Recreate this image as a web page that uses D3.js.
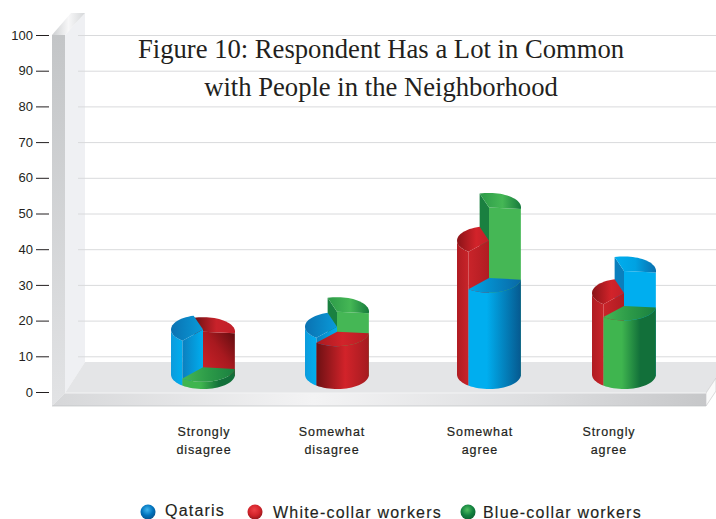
<!DOCTYPE html>
<html lang="en">
<head>
<meta charset="UTF-8">
<title>Figure 10</title>
<script src="https://d3js.org/d3.v7.min.js"></script>
<style>
  html, body { margin: 0; padding: 0; background: #fff; }
  svg { display: block; }
  text { font-family: "Liberation Sans", Arial, sans-serif; fill: #231f20; }
  .title { font-family: "Liberation Serif", "Times New Roman", serif; font-size: 26.65px; text-anchor: middle; }
  .cat { font-size: 12.5px; letter-spacing: 0.9px; text-anchor: middle; stroke: #231f20; stroke-width: 0.2px; }
  .leg { font-size: 16px; letter-spacing: 1.2px; stroke: #231f20; stroke-width: 0.15px; }
</style>
</head>
<body>
<script>
// data
const categories = [["Strongly", "disagree"], ["Somewhat", "disagree"], ["Somewhat", "agree"], ["Strongly", "agree"]];
const seriesNames = ["Qataris", "White-collar workers", "Blue-collar workers"];
const qataris = [12.6, 13.4, 27, 29];
const whiteCollar = [12, 12, 37.5, 22.8];
const blueCollar = [2, 17.6, 46.8, 19.2];
const allSeries = [qataris, whiteCollar, blueCollar];
const yTicks = [0, 10, 20, 30, 40, 50, 60, 70, 80, 90, 100];
const titleLines = ["Figure 10: Respondent Has a Lot in Common", "with People in the Neighborhood"];
// which series sits in which wedge: [back right, back left, front]
const wedgeOrder = [[1, 0, 2], [2, 0, 1], [2, 1, 0], [0, 1, 2]];

const width = 716, height = 519;
const svg = d3.select("body").append("svg").attr("width", width).attr("height", height);
const defs = svg.append("defs");

function grad(id, stops, y1 = 0, x2 = 1, y2 = 0) {
  const g = defs.append("linearGradient").attr("id", id)
    .attr("x1", 0).attr("y1", y1).attr("x2", x2).attr("y2", y2);
  stops.forEach(s => g.append("stop").attr("offset", s[0]).attr("stop-color", s[1]));
}

const y = d3.scaleLinear().domain([0, 100]).range([392, 35]);
const cx = d3.scaleOrdinal().domain(d3.range(4)).range([203, 337, 489, 624]);
const labelX = d3.scaleOrdinal().domain(d3.range(4)).range([204, 332, 480, 609]);
const rx = 32, ry = 14.5, baseY = 374.5;

// ---- box ----
grad("wallFront", [[0, "#c3c5c7"], [1, "#e2e3e5"]], 0, 0, 1);
grad("wallTop", [[0, "#cdcfd1"], [0.5, "#f7f7f8"], [1, "#d5d7d9"]]);
grad("band", [[0, "#d6d7d9"], [0.4, "#f3f3f4"], [0.75, "#dcdddf"], [1, "#c6c7c9"]]);

const poly = pts => "M" + pts.map(p => p.join(",")).join("L") + "Z";
svg.append("path").attr("d", poly([[65, 35], [85, 13], [85, 362], [65, 393]])).attr("fill", "#eff0f3");
svg.append("path").attr("d", poly([[52, 35], [65, 35], [85, 13], [71, 13]])).attr("fill", "url(#wallTop)");
svg.append("path").attr("d", poly([[52, 35], [65, 35], [65, 393], [52, 406]])).attr("fill", "url(#wallFront)");

svg.append("g").selectAll("line").data(yTicks.filter(d => d > 0)).enter().append("line")
  .attr("x1", 78).attr("x2", width)
  .attr("y1", d => y(d) + 0.5).attr("y2", d => y(d) + 0.5)
  .attr("stroke", "#d9dadc").attr("stroke-width", 1);

svg.append("path").attr("d", poly([[65, 393], [85, 362], [716, 362], [716, 378], [706, 393]])).attr("fill", "#e4e5e7");
svg.append("path").attr("d", poly([[52, 406], [65, 393], [706, 393], [706, 406]])).attr("fill", "url(#band)");
svg.append("path").attr("d", poly([[706, 393], [716, 378], [716, 391], [706, 406]]))
  .attr("fill", "#fafafa").attr("stroke", "#c8c9cb").attr("stroke-width", 0.7);
svg.append("line").attr("x1", 65).attr("x2", 706).attr("y1", 393).attr("y2", 393).attr("stroke", "#f4f4f5");
svg.append("line").attr("x1", 52).attr("x2", 706).attr("y1", 406).attr("y2", 406).attr("stroke", "#bfc1c3").attr("stroke-width", 0.7);

// ---- axis ----
const axis = svg.append("g").attr("transform", "translate(49,0)")
  .call(d3.axisLeft(y).tickValues(yTicks).tickSize(13).tickPadding(3));
axis.select(".domain").remove();
axis.selectAll("line").attr("stroke", "#231f20").attr("stroke-width", 1);
axis.selectAll("text").style("font-size", "13px").style("font-family", "'Liberation Sans', Arial, sans-serif");

// ---- title ----
svg.selectAll(".title").data(titleLines).enter().append("text")
  .attr("class", "title").attr("x", 381).attr("y", (d, i) => i ? 96 : 58).text(d => d);

// ---- gradients per series ----
const shades = [
  { wall: [[0, "#00aeef"], [0.35, "#00aeef"], [1, "#06598f"]],
    topL: [[0, "#0a72b2"], [1, "#0a9ad8"]], topR: [[0, "#00aeef"], [0.5, "#00a2e2"], [1, "#0a6fae"]],
    topF: [[0, "#00a6e6"], [1, "#0a68a5"]],
    a: [[0, "#0b7fbf"], [1, "#00aeef"]], b: "#0a7fbd", c: [[0, "#00aeef"], [1, "#00aeef"]], side: [[0, "#0d9bdc"], [1, "#00aeef"]] },
  { wall: [[0, "#6d1013"], [0.55, "#d2232a"], [1, "#a41b20"]],
    topL: [[0, "#8a1418"], [0.6, "#d2232a"], [1, "#c1202a"]], topR: [[0, "#6d1013"], [0.55, "#c8222a"], [1, "#c1202a"]],
    topF: [[0, "#a81a20"], [0.5, "#d2232a"], [1, "#b51d23"]],
    a: [[0, "#c9242a"], [1, "#b01c22"]], b: "#7c1115", c: [[0, "#d2232a"], [0.55, "#a8191f"], [1, "#5f0d10"]], side: [[0, "#b01c22"], [1, "#c8242a"]] },
  { wall: [[0, "#3fb54f"], [0.35, "#3fb54f"], [0.7, "#12703a"], [1, "#12703a"]],
    topL: [[0, "#2c9a48"], [1, "#45b755"]], topR: [[0, "#2c9a48"], [0.55, "#45b755"], [1, "#177b3d"]],
    topF: [[0, "#45b755"], [0.5, "#2c9a48"], [1, "#1a8040"]],
    a: [[0, "#2a9a48"], [1, "#2a9a48"]], b: "#1a8040", c: [[0, "#45b755"], [1, "#45b755"]], side: [[0, "#3fb54f"], [1, "#3fb54f"]] }
];
shades.forEach((s, i) => {
  grad("wall" + i, s.wall);
  grad("topL" + i, s.topL);
  grad("topR" + i, s.topR);
  grad("topF" + i, s.topF);
  grad("a" + i, s.a);
  grad("c" + i, s.c, 1, 1, 0);
  grad("side" + i, s.side);
});

// ---- cylinders ----
const deg = Math.PI / 180;
const angA = 130 * deg, angB = 253 * deg, angC = 6 * deg;
const px = (c, a) => c + rx * Math.cos(a);
const py = (v, a) => baseY - (y(0) - y(v)) + ry * Math.sin(a);
const line = d3.line();

function arcPts(c, v, a0, a1) {
  return d3.range(0, 25).map(i => {
    const a = a0 + (a1 - a0) * i / 24;
    return [px(c, a), py(v, a)];
  });
}

function wallFace(g, c, v, a0, a1, fill) {
  const pts = arcPts(c, v, a0, a1).concat(arcPts(c, 0, a0, a1).reverse());
  g.append("path").attr("d", line(pts) + "Z").attr("fill", fill);
}

function radialFace(g, c, v, a, fill) {
  g.append("path").attr("d", poly([[c, py(v, 0)], [px(c, a), py(v, a)], [px(c, a), py(0, a)], [c, py(0, 0)]])).attr("fill", fill);
}

function topFace(g, c, v, a0, a1, fill) {
  g.append("path").attr("d", line([[c, py(v, 0)]].concat(arcPts(c, v, a0, a1))) + "Z").attr("fill", fill);
}

categories.forEach((cat, ci) => {
  const c = cx(ci);
  const g = svg.append("g");
  const [sR, sL, sF] = wedgeOrder[ci];
  const vR = allSeries[sR][ci], vL = allSeries[sL][ci], vF = allSeries[sF][ci];

  // back right wedge
  radialFace(g, c, vR, angB, shades[sR].b);
  wallFace(g, c, vR, 0, angC, "url(#wall" + sR + ")");
  radialFace(g, c, vR, angC, "url(#c" + sR + ")");
  topFace(g, c, vR, angB, angC + 2 * Math.PI, "url(#topR" + sR + ")");

  // back left wedge
  wallFace(g, c, vL, angA, Math.PI, "url(#side" + sL + ")");
  radialFace(g, c, vL, angA, "url(#a" + sL + ")");
  topFace(g, c, vL, angA, angB, "url(#topL" + sL + ")");

  // front wedge
  wallFace(g, c, vF, angC, angA, "url(#wall" + sF + ")");
  topFace(g, c, vF, angC, angA, "url(#topF" + sF + ")");
});

// ---- category labels ----
categories.forEach((cat, ci) => {
  cat.forEach((t, li) => {
    svg.append("text").attr("class", "cat").attr("x", labelX(ci)).attr("y", 436 + li * 18).text(t);
  });
});

// ---- legend ----
const legendColors = [["#3fb5ee", "#0072bc", "#0a4f86"], ["#ee4045", "#d2232a", "#8a1418"], ["#4fbf60", "#12813f", "#0c5f30"]];
legendColors.forEach((c, i) => {
  const r = defs.append("radialGradient").attr("id", "ball" + i).attr("cx", 0.45).attr("cy", 0.35).attr("r", 0.7);
  r.append("stop").attr("offset", 0).attr("stop-color", c[0]);
  r.append("stop").attr("offset", 0.55).attr("stop-color", c[1]);
  r.append("stop").attr("offset", 1).attr("stop-color", c[2]);
});
const legendCircleX = d3.scaleOrdinal().domain(d3.range(3)).range([148, 255, 468]);
const legendTextX = d3.scaleOrdinal().domain(d3.range(3)).range([165, 273, 483]);
const legendTextY = d3.scaleOrdinal().domain(d3.range(3)).range([515.5, 517.5, 517.5]);
seriesNames.forEach((n, i) => {
  svg.append("circle").attr("cx", legendCircleX(i)).attr("cy", 512).attr("r", 7.5).attr("fill", "url(#ball" + i + ")");
  svg.append("text").attr("class", "leg").attr("x", legendTextX(i)).attr("y", legendTextY(i)).text(n);
});
</script>
</body>
</html>
